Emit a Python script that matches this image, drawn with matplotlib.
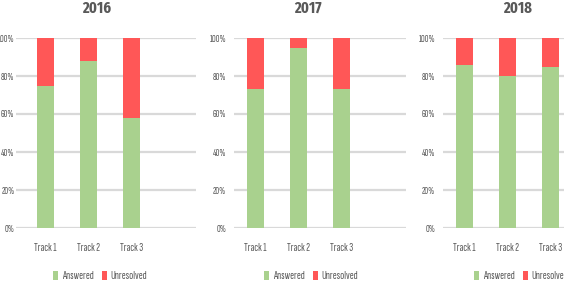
import matplotlib.pyplot as plt
from matplotlib.ticker import PercentFormatter

# 原图文字被横向压缩, 用特窄字体近似
plt.rcParams['font.family'] = ['Sofia Sans Extra Condensed', 'Saira ExtraCondensed',
                               'Fira Sans Extra Condensed', 'DejaVu Sans']

years = ['2016', '2017', '2018']
tracks = ['Track 1', 'Track 2', 'Track 3']
answered = {
    '2016': [75, 88, 58],
    '2017': [73, 95, 73],
    '2018': [86, 80, 85],
}
unresolved = {
    '2016': [25, 12, 42],
    '2017': [27, 5, 27],
    '2018': [14, 20, 15],
}

GREEN = '#A9D18E'
RED = '#FF5757'
GRID = '#D9D9D9'
TEXT = '#595959'

W, H = 564, 282
fig = plt.figure(figsize=(W / 100, H / 100), dpi=100)

# 每个面板: (左, 右, xlim 左端, 标题x, 图例x)  单位: 像素
panels = [
    (16, 196, -0.69, 97, 100),
    (234, 406, -0.5, 308, 311),
    (443, 615, -0.5, 518, 521),
]
top, bottom = 38, 228

for year, (x0, x1, xl, tx, lx) in zip(years, panels):
    ax = fig.add_axes([x0 / W, 1 - bottom / H, (x1 - x0) / W, (bottom - top) / H])
    pos = range(len(tracks))
    ax.bar(pos, answered[year], width=0.4, color=GREEN, label='Answered', zorder=3)
    ax.bar(pos, unresolved[year], width=0.4, bottom=answered[year], color=RED,
           label='Unresolved', zorder=3)
    ax.set_xlim(xl, 3.5)
    ax.set_ylim(0, 100)
    ax.set_yticks(range(0, 101, 20))
    ax.yaxis.set_major_formatter(PercentFormatter(decimals=0))
    ax.set_xticks(list(pos))
    ax.set_xticklabels(tracks)
    ax.grid(axis='y', color=GRID, linewidth=1.6, zorder=0)
    ax.set_axisbelow(True)
    for s in ax.spines.values():
        s.set_visible(False)
    ypad = 1.0 if x0 == 16 else 5.5
    ax.tick_params(axis='y', length=0, pad=ypad, labelsize=7.5, labelcolor=TEXT)
    ax.tick_params(axis='x', length=0, pad=11, labelsize=8.5, labelcolor=TEXT)

    fig.text(tx / W, 1 - 8 / H, year, ha='center', va='center',
             fontsize=11.5, fontweight='bold', color=TEXT,
             family=['Fira Sans Extra Condensed', 'DejaVu Sans'])
    ax.legend(loc='center', bbox_to_anchor=(lx / W, 1 - 276 / H),
              bbox_transform=fig.transFigure, ncol=2, frameon=False,
              fontsize=8.5, handlelength=0.45, handleheight=0.9,
              handletextpad=0.3, columnspacing=0.7, labelcolor=TEXT,
              borderpad=0, borderaxespad=0)

plt.savefig('out.png', dpi=100)
